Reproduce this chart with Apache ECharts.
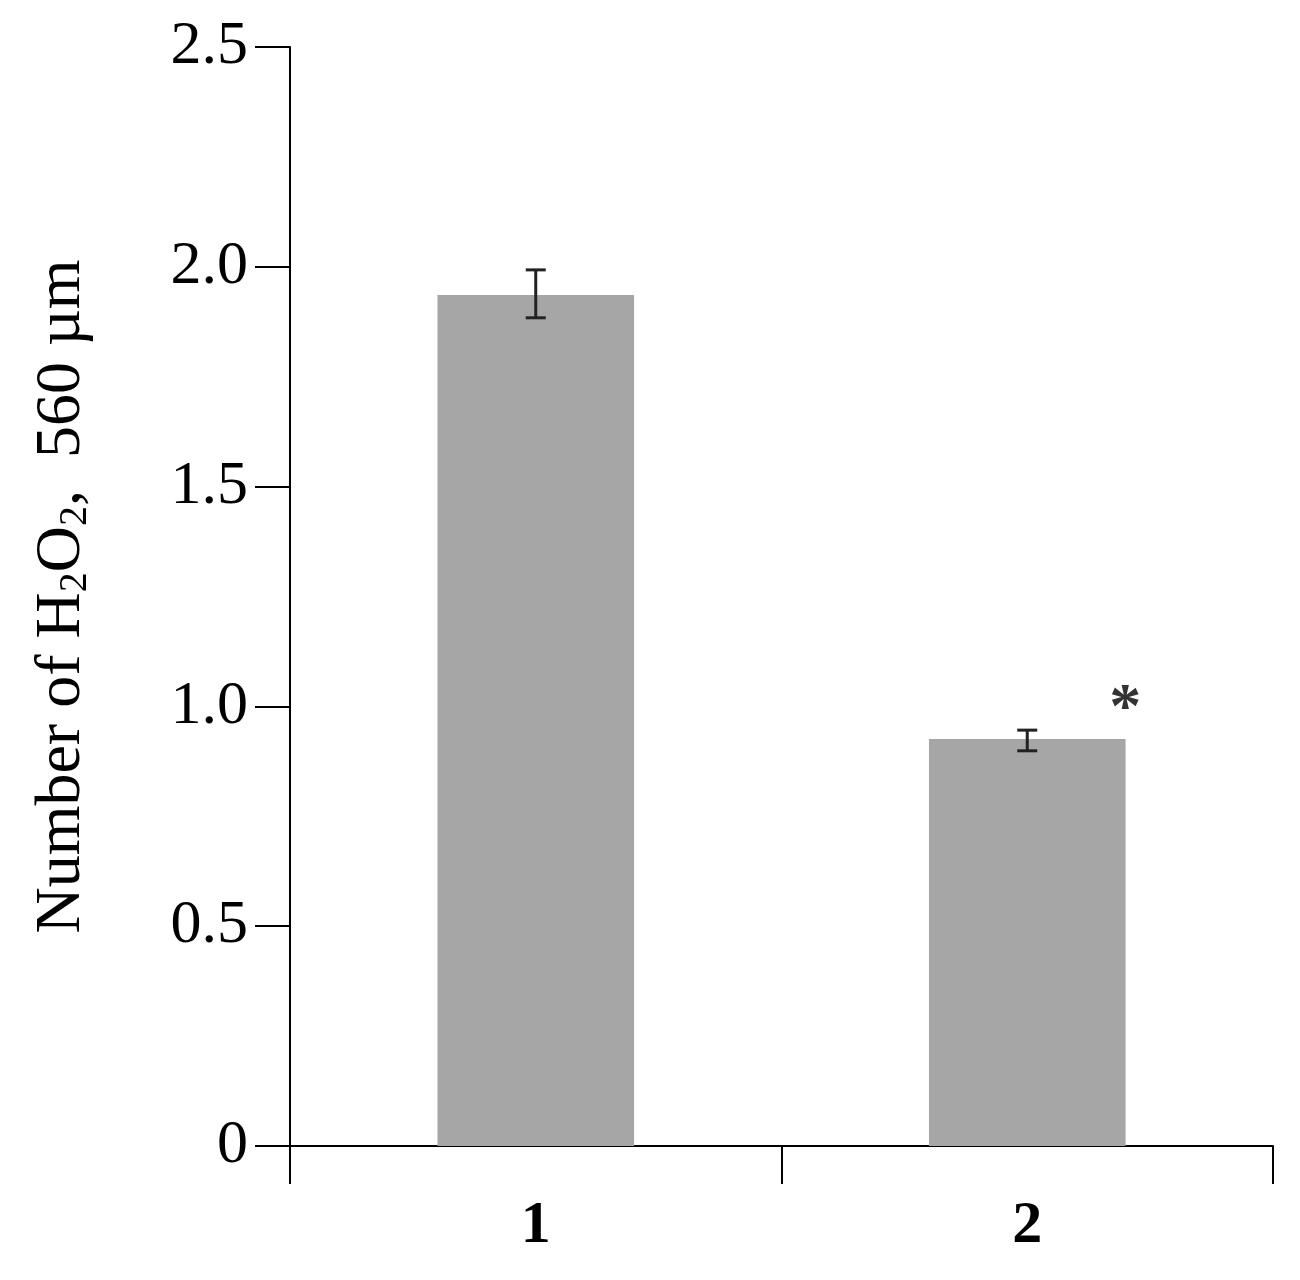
<!DOCTYPE html>
<html><head><meta charset="utf-8">
<script src="https://cdn.jsdelivr.net/npm/echarts@6/dist/echarts.min.js"></script>
<style>html,body{margin:0;background:#fff}#c{width:1300px;height:1280px}</style>
</head><body><div id="c"></div>
<script>
const categories = ['1', '2']
const means = [1.936, 0.926]
const errLow = [1.884, 0.899]
const errHigh = [1.993, 0.946]
const yTicks = [0, 0.5, 1.0, 1.5, 2.0, 2.5]

const font = '"Liberation Serif", "Times New Roman", serif'
const chart = echarts.init(document.getElementById('c'))
chart.setOption({
  animation: false,
  grid: { left: 290, right: 27, top: 47, bottom: 134 },
  xAxis: {
    type: 'category', data: categories,
    axisLine: { lineStyle: { color: '#000', width: 2 } },
    axisTick: { show: true, length: 38, lineStyle: { color: '#000', width: 2 } },
    axisLabel: { fontFamily: font, fontSize: 60, fontWeight: 'bold', color: '#000', margin: 50 }
  },
  yAxis: {
    type: 'value', min: 0, max: 2.5, interval: 0.5,
    splitLine: { show: false },
    axisLine: { show: true, lineStyle: { color: '#000', width: 2 } },
    axisTick: { show: true, length: 35, lineStyle: { color: '#000', width: 2 } },
    axisLabel: {
      fontFamily: font, fontSize: 62, color: '#000', margin: 42,
      formatter: v => v === 0 ? '0' : v.toFixed(1)
    },
    name: '{a|Number of H}{s|2}{a|O}{s|2}{a|,  560 µm}',
    nameLocation: 'middle', nameGap: 195, nameRotate: 90,
    nameTextStyle: {
      rich: {
        a: { fontFamily: font, fontSize: 64, color: '#000' },
        s: { fontFamily: font, fontSize: 40, color: '#000', padding: [26, 0, 0, 0] }
      }
    }
  },
  series: [
    {
      type: 'bar', data: means, barWidth: '40%',
      itemStyle: { color: '#a6a6a6' }
    },
    {
      type: 'custom',
      data: categories.map((c, i) => [i, errLow[i], errHigh[i]]),
      renderItem: (params, api) => {
        const lo = api.coord([api.value(0), api.value(1)])
        const hi = api.coord([api.value(0), api.value(2)])
        const w = 10
        const st = { stroke: '#222', lineWidth: 3 }
        return {
          type: 'group', children: [
            { type: 'line', shape: { x1: lo[0], y1: lo[1], x2: hi[0], y2: hi[1] }, style: st },
            { type: 'line', shape: { x1: lo[0] - w, y1: lo[1], x2: lo[0] + w, y2: lo[1] }, style: st },
            { type: 'line', shape: { x1: hi[0] - w, y1: hi[1], x2: hi[0] + w, y2: hi[1] }, style: st }
          ]
        }
      },
      z: 5
    },
    {
      type: 'scatter', symbolSize: 0,
      data: [[1, 1.0]],
      label: {
        show: true, formatter: '*', position: 'inside', offset: [98, 4],
        fontFamily: font, fontSize: 64, fontWeight: 'bold', color: '#000'
      }
    }
  ]
})
</script></body></html>
